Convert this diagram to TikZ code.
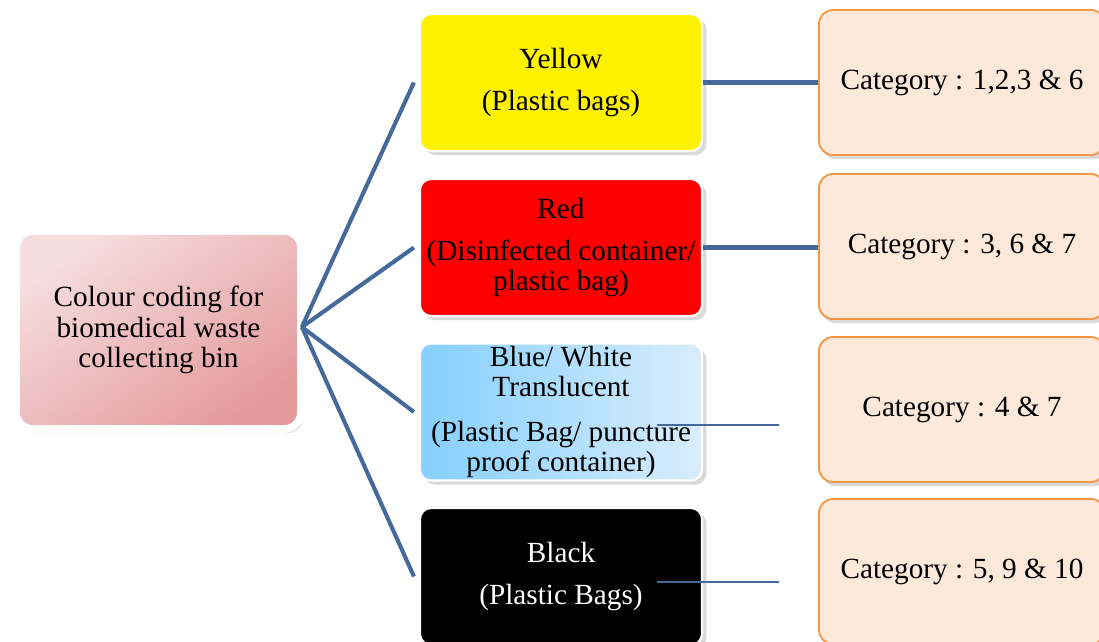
\documentclass[tikz,border=0pt]{standalone}
\usepackage{fontspec}
\setmainfont{Liberation Serif}
\usepackage{xcolor}
\usepackage{tikz}
\usetikzlibrary{positioning,calc,shadows}
\definecolor{linkblue}{HTML}{44699A}
\definecolor{rootlight}{HTML}{F6DEE0}
\definecolor{rootdark}{HTML}{E49A9B}
\definecolor{binblueL}{HTML}{85CFFD}
\definecolor{binblueR}{HTML}{D9EDFC}
\definecolor{catfill}{HTML}{FDE9DA}
\definecolor{catedge}{HTML}{F79646}

\begin{document}
\begin{tikzpicture}[x=0.025cm, y=-0.025cm,
    txt/.style={font=\fontsize{20.8}{21.5}\selectfont, align=center, inner sep=2pt},
    rootbox/.style={txt, rectangle, draw=white, line width=5.5pt, rounded corners=12pt,
                top color=rootlight, bottom color=rootdark, shading angle=35,
                minimum width=7.125cm, minimum height=4.95cm,
                drop shadow={shadow xshift=2pt, shadow yshift=-3pt, opacity=0.3}},
    bin/.style={txt, rectangle, draw=white, line width=1.5pt, fill=#1, rounded corners=8pt,
                minimum width=7.05cm, minimum height=3.425cm,
                drop shadow={shadow xshift=3pt, shadow yshift=-3pt, opacity=0.3}},
    catbox/.style={txt, rectangle, draw=catedge, line width=1.3pt, fill=catfill, rounded corners=10pt,
                minimum width=7.15cm, minimum height=3.625cm,
                drop shadow={shadow xshift=2pt, shadow yshift=-3pt, opacity=0.3}},
    link/.style={linkblue, line width=2.9pt},
    thinlink/.style={linkblue, line width=1.1pt}
]
\useasboundingbox (0,0) rectangle (1099,642);

\node[rootbox] (root) at (158.5,330) {Colour coding for\\biomedical waste\\collecting bin};

\node[bin=yellow] (ybin) at (561,82.5) {Yellow\\[9pt](Plastic bags)};
\node[bin=red] (rbin) at (561,247.5) {Red\\[8pt](Disinfected container/\\plastic bag)};
\node[bin=white, left color=binblueL, right color=binblueR] (bbin) at (561,412)
    {Blue/ White\\Translucent\\[10pt](Plastic Bag/ puncture\\proof container)};
\node[bin=black, text=white] (kbin) at (561,576.5) {Black\\[9pt](Plastic Bags)};

\node[catbox] (cat1) at (962,82.5) {Category : 1,2,3 \& 6};
\node[catbox] (cat2) at (962,246.5) {Category : 3, 6 \& 7};
\node[catbox] (cat3) at (962,409.5) {Category : 4 \& 7};
\node[catbox] (cat4) at (962,571.5) {Category : 5, 9 \& 10};

% fan out from the root
\foreach \b in {ybin,rbin,bbin,kbin}
    \draw[link] ($(root.east)+(-3,-3)$) -- ($(\b.west)+(-5,0)$);

\draw[link] (ybin.east) -- (ybin.east -| cat1.west);
\draw[link] (rbin.east) -- (rbin.east -| cat2.west);

% short thin stubs
\coordinate (bstub) at ($(bbin.center)+(96,13)$);
\coordinate (bend) at ($(cat3.west)+(-39,15.5)$);
\coordinate (kstub) at ($(kbin.center)+(96,5.5)$);
\coordinate (kend) at ($(cat4.west)+(-39,10.5)$);
\draw[thinlink] (bstub) -- (bend);
\draw[thinlink] (kstub) -- (kend);
\end{tikzpicture}
\end{document}
